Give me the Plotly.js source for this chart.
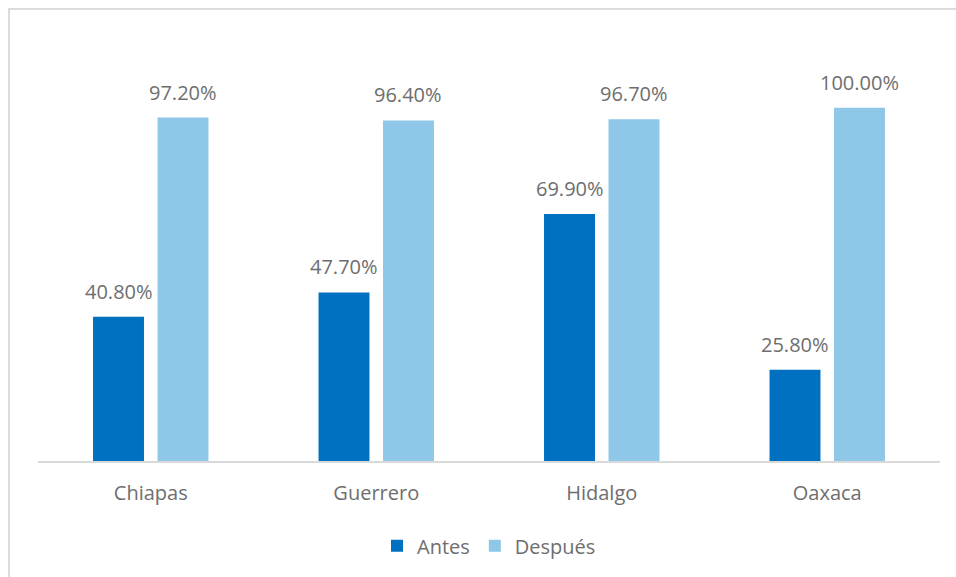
<!DOCTYPE html>
<html><head><meta charset="utf-8">
<script src="https://cdn.plot.ly/plotly-3.0.1.min.js"></script>
<style>
html,body{margin:0;padding:0;background:#fff;overflow:hidden;}
#frame{position:absolute;left:8px;top:8px;width:1000px;height:1000px;border:2px solid #dcdcdc;box-sizing:border-box;pointer-events:none;z-index:5;}
#chart{position:absolute;left:0;top:0;width:956px;height:577px;}
</style></head>
<body>
<div id="chart"></div>
<div id="frame"></div>
<script>
const categories = ["Chiapas", "Guerrero", "Hidalgo", "Oaxaca"];
const antes = [40.8, 47.7, 69.9, 25.8];
const despues = [97.2, 96.4, 96.7, 100.0];
const seriesNames = ["Antes", "Después"];

const fmt = v => v.toFixed(2) + "%";
const grey = "#6e6e6e";
const labelFont = {family: "Open Sans, sans-serif", size: 20, color: grey};

const W = 956, H = 577;
const margin = {l: 38, r: 16, t: 37, b: 116};
const bargap = 0.428, bargroupgap = 0.21;

const traces = [
  {type: "bar", name: seriesNames[0], x: categories, y: antes,
   marker: {color: "#0070c0"}, hoverinfo: "none"},
  {type: "bar", name: seriesNames[1], x: categories, y: despues,
   marker: {color: "#8fc7e8"}, hoverinfo: "none"}
];

// data labels: placed at each bar's value through the axes; horizontal shift = half a group slot
const catWidthPx = (W - margin.l - margin.r) / categories.length;
const slotPx = catWidthPx * (1 - bargap) / 2;
const annotations = [];
[antes, despues].forEach((series, si) => {
  series.forEach((v, i) => {
    annotations.push({
      x: categories[i], y: v, xref: "x", yref: "y",
      text: fmt(v), showarrow: false, yanchor: "bottom",
      xshift: (si - 0.5) * slotPx, yshift: 10,
      font: labelFont
    });
  });
});

const layout = {
  width: W, height: H,
  margin: margin,
  paper_bgcolor: "#fff", plot_bgcolor: "#fff",
  barmode: "group", bargap: bargap, bargroupgap: bargroupgap,
  font: {family: "Open Sans, sans-serif", color: grey},
  xaxis: {showline: true, linecolor: "#d9d9d9", linewidth: 2, ticks: "",
          ticklabelstandoff: 13,
          tickfont: {size: 20, color: grey}, showgrid: false, zeroline: false},
  yaxis: {range: [0, 120], visible: false, showgrid: false, zeroline: false},
  showlegend: true,
  legend: {orientation: "h", x: 0.5, xanchor: "center", y: -0.2, yanchor: "middle",
           font: {size: 20, color: grey}, itemwidth: 30},
  annotations: annotations
};

Plotly.newPlot("chart", traces, layout, {displayModeBar: false, staticPlot: true});
</script>
</body></html>
